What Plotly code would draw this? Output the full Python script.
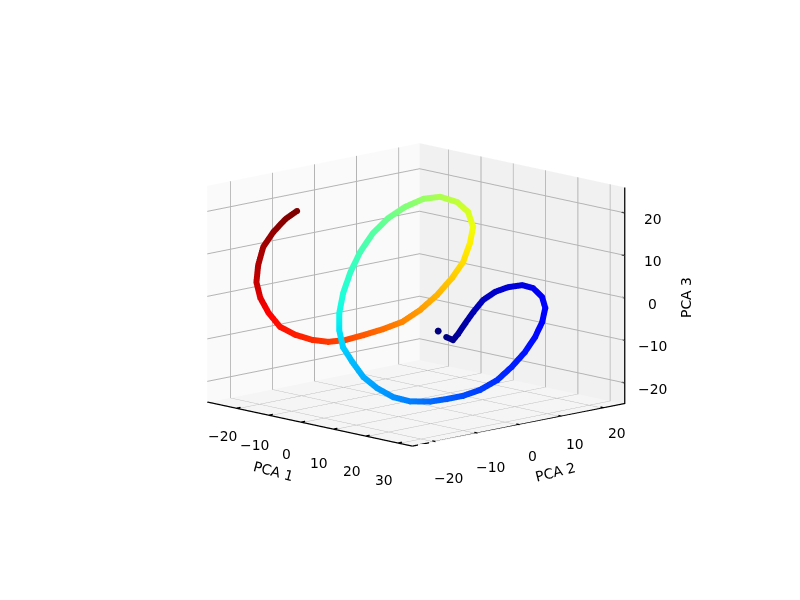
import math
import plotly.graph_objects as go

pca1 = [2.8,4.5,5.7,7.3,9.0,11.1,13.8,16.7,19.8,22.4,24.9,26.3,26.9,26.9,26.4,25.3,23.8,21.6,19.0,16.1,12.7,8.3,4.5,0.8,-2.3,-4.8,-7.3,-9.1,-10.4,-11.0,-11.1,-10.7,-9.6,-8.0,-5.9,-3.2,-0.6,2.0,3.7,4.6,4.3,3.6,2.3,0.5,-1.7,-4.0,-6.5,-9.1,-11.6,-14.1,-16.7,-19.8,-22.6,-25.0,-26.9,-28.1,-28.6,-28.6,-27.8,-26.7,-25.7]
pca2 = [6.9,7.2,7.5,8.0,8.6,9.3,10.1,10.9,11.9,12.5,12.7,12.4,11.2,9.5,7.5,5.2,2.9,0.5,-1.5,-3.1,-4.5,-5.9,-7.0,-8.0,-8.9,-9.6,-9.9,-9.4,-8.4,-7.0,-5.2,-3.2,-1.0,1.4,3.8,6.1,8.1,10.1,11.4,11.9,11.4,10.3,8.7,6.5,4.2,1.7,-1.0,-3.7,-6.1,-8.2,-10.0,-11.6,-13.1,-14.0,-14.5,-14.5,-13.7,-12.5,-10.7,-8.7,-6.7]
pca3 = [-10.8,-11.3,-9.7,-7.0,-4.2,-1.2,1.0,2.4,3.2,2.8,1.1,-1.2,-4.2,-7.4,-10.6,-13.8,-16.7,-18.9,-20.3,-21.2,-22.1,-22.5,-21.9,-20.2,-17.9,-14.6,-11.5,-7.9,-4.3,0.1,4.6,9.0,13.2,16.5,19.0,20.9,21.4,20.2,17.9,14.4,10.7,6.3,2.7,-1.2,-4.6,-7.3,-8.9,-10.2,-11.3,-11.7,-11.3,-10.3,-8.6,-5.5,-2.2,1.3,5.1,9.1,12.4,15.2,16.9]
time_frac = [0.005,0.015,0.025,0.035,0.045,0.055,0.065,0.075,0.085,0.095,0.105,0.115,0.125,0.135,0.145,0.155,0.17,0.185,0.20,0.215,0.23,0.25,0.265,0.28,0.295,0.31,0.33,0.35,0.37,0.39,0.41,0.43,0.45,0.475,0.50,0.525,0.55,0.575,0.60,0.625,0.65,0.67,0.69,0.715,0.74,0.765,0.79,0.815,0.835,0.85,0.865,0.88,0.895,0.91,0.93,0.95,0.965,0.975,0.985,0.995,1.0]
first_x = [1.2]
first_y = [6.2]
first_z = [-9.5]
x_ticks = [-20,-10,0,10,20,30]
y_ticks = [-20,-10,0,10,20]
z_ticks = [-20,-10,0,10,20]
x_range = [-29,34.5]
y_range = [-25.5,25]
z_range = [-25,26]

jet = [[0,"#00007f"],[0.11,"#0000ff"],[0.125,"#0000ff"],[0.34,"#00dbff"],[0.35,"#00e5f7"],[0.375,"#14ffe3"],
       [0.64,"#fbff00"],[0.65,"#fff000"],[0.66,"#ffe600"],[0.89,"#ff1400"],[0.91,"#ff0000"],[1,"#7f0000"]]

def axis(rng, ticks, bg):
    return dict(title=dict(text=""), range=rng, tickvals=ticks, showticklabels=False,
                showbackground=True, backgroundcolor=bg, gridcolor="#b4b4b4", gridwidth=2,
                zeroline=False, showspikes=False, showline=False, ticks="", autorange=False)

def label(text, x, y, z, dx, dy):
    return dict(text=text, x=x, y=y, z=z, xshift=dx, yshift=-dy, showarrow=False,
                xanchor="center", yanchor="middle",
                font=dict(family="DejaVu Sans", size=13.9, color="black"))

def txt(t):
    return str(t).replace("-", "\u2212")

eps = 0.02
notes = []
for t in x_ticks:
    notes.append(label(txt(t), t, y_range[0]+eps, z_range[0]+eps, -14, 27+(t+20)*0.2))
for t in y_ticks:
    notes.append(label(txt(t), x_range[1]-eps, t, z_range[0]+eps, 13, 25+(20-t)*0.275))
for t in z_ticks:
    notes.append(label(txt(t), x_range[1]-eps, y_range[1]-eps, t, 28, 6))

# axis edges and tick marks, drawn in data coordinates, lifted just off the floor plane
lift = 0.15
z0 = z_range[0] + lift
fx, fy, fz = [], [], []
def seg(a, b):
    fx.extend([a[0], b[0], None]); fy.extend([a[1], b[1], None]); fz.extend([a[2], b[2], None])
seg((x_range[0], y_range[0], z0), (x_range[1], y_range[0], z0))
seg((x_range[1], y_range[0], z0), (x_range[1], y_range[1], z0))
seg((x_range[1], y_range[1], z_range[0]), (x_range[1], y_range[1], z_range[1]))
for t in x_ticks:
    seg((t, y_range[0], z0), (t, y_range[0]+1.0, z0))
for t in y_ticks:
    seg((x_range[1], t, z0), (x_range[1]-1.0, t, z0))
for t in z_ticks:
    seg((x_range[1], y_range[1], t), (x_range[1]-1.0, y_range[1], t))

fig = go.Figure()
fig.add_trace(go.Scatter3d(x=fx, y=fy, z=fz, mode="lines", line=dict(color="black", width=2.5),
    hoverinfo="skip", showlegend=False, connectgaps=False))
fig.add_trace(go.Scatter3d(x=pca1, y=pca2, z=pca3, mode="lines+markers",
    line=dict(color=time_frac, colorscale=jet, cmin=0, cmax=1, width=12),
    marker=dict(color=time_frac, colorscale=jet, cmin=0, cmax=1, size=3.6, line=dict(width=0)),
    hoverinfo="skip", showlegend=False))
fig.add_trace(go.Scatter3d(x=first_x, y=first_y, z=first_z, mode="markers",
    marker=dict(color="#00007f", size=4, line=dict(width=0)), hoverinfo="skip", showlegend=False))

title_font = dict(family="DejaVu Sans", size=13.9, color="black")
def title(text, px, py, angle):
    return dict(text=text, x=px/800, y=1-py/600, xref="paper", yref="paper", showarrow=False,
                textangle=angle, xanchor="center", yanchor="middle", font=title_font)

elev, azim, r = math.radians(12), math.radians(-44), 2.0
fig.update_layout(width=800, height=600, margin=dict(l=0, r=0, t=0, b=0), paper_bgcolor="white",
    annotations=[title("PCA 1", 265, 463, 15), title("PCA 2", 547, 464, -14), title("PCA 3", 678, 290, -90)],
    scene=dict(domain=dict(x=[0.02,1], y=[0.06,0.984]),
        xaxis=axis(x_range, x_ticks, "#fafafa"),
        yaxis=axis(y_range, y_ticks, "#f1f1f1"),
        zaxis=axis(z_range, z_ticks, "#f5f5f5"),
        annotations=notes,
        aspectmode="manual", aspectratio=dict(x=1.066,y=1.066,z=0.8),
        camera=dict(projection=dict(type="orthographic"), up=dict(x=0,y=0,z=1), center=dict(x=0,y=0,z=0),
            eye=dict(x=r*math.cos(elev)*math.cos(azim), y=r*math.cos(elev)*math.sin(azim), z=r*math.sin(elev)))))
fig.write_html("out.html")
